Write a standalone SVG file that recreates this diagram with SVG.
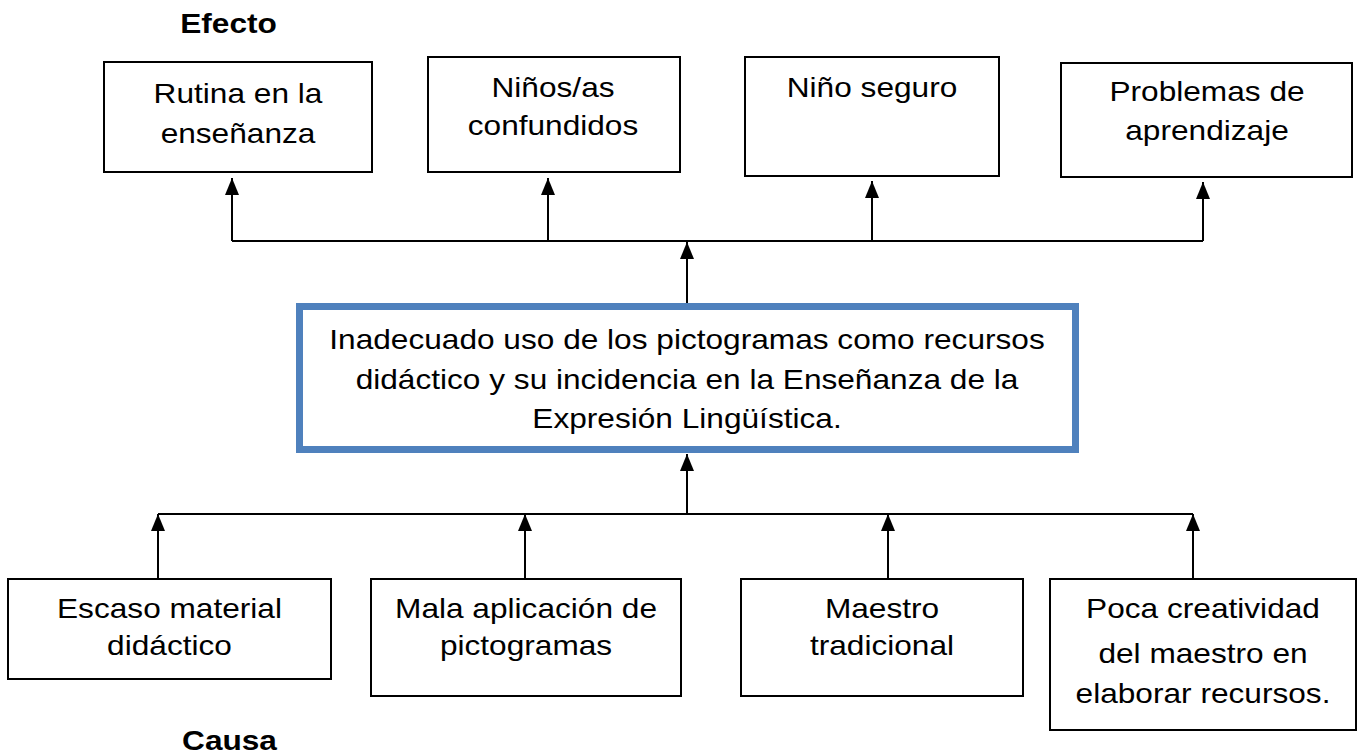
<svg xmlns="http://www.w3.org/2000/svg" width="1359" height="753" viewBox="0 0 1359 753">
<style>
.box{fill:#fff;stroke:#000;stroke-width:2}
.main{fill:#fff;stroke:#4F81BD;stroke-width:7}
.t{font-family:"Liberation Sans",Arial,sans-serif;font-size:28px;fill:#000;text-anchor:middle}
.b{font-weight:bold}
.ln{stroke:#000;stroke-width:2;fill:none}
.ar{stroke:#000;stroke-width:2;fill:none;marker-end:url(#ah)}
</style>
<defs>
<marker id="ah" viewBox="0 0 17 14" refX="17" refY="7" markerWidth="17" markerHeight="14" markerUnits="userSpaceOnUse" orient="auto">
<path d="M0,0 L17,7 L0,14 z" fill="#000"/>
</marker>
</defs>
<rect width="1359" height="753" fill="#fff"/>
<g id="lbl-efecto"><text class="t b" transform="matrix(1.13 0 0 1 228.5 33)">Efecto</text></g>
<g id="lbl-causa"><text class="t b" transform="matrix(1.13 0 0 1 229.5 750)">Causa</text></g>
<g id="connectors">
<path class="ln" d="M232,241 H1203"/>
<path class="ar" d="M232,241 V178"/>
<path class="ar" d="M548,241 V178"/>
<path class="ar" d="M872,241 V181"/>
<path class="ar" d="M1203,241 V182"/>
<path class="ar" d="M687,303 V242"/>
<path class="ar" d="M687,514 V454"/>
<path class="ln" d="M158,514 H1193"/>
<path class="ar" d="M158,579 V514"/>
<path class="ar" d="M525,579 V514"/>
<path class="ar" d="M888,579 V514"/>
<path class="ar" d="M1193,579 V514"/>
</g>
<g id="e1"><rect class="box" x="104" y="62" width="268" height="110"/>
<text class="t" transform="matrix(1.13 0 0 1 238 103)">Rutina en la</text>
<text class="t" transform="matrix(1.13 0 0 1 238 143)">enseñanza</text></g>
<g id="e2"><rect class="box" x="428" y="57" width="252" height="115"/>
<text class="t" transform="matrix(1.13 0 0 1 553 97)">Niños/as</text>
<text class="t" transform="matrix(1.13 0 0 1 553 135)">confundidos</text></g>
<g id="e3"><rect class="box" x="745" y="57" width="254" height="119"/>
<text class="t" transform="matrix(1.13 0 0 1 872 97)">Niño seguro</text></g>
<g id="e4"><rect class="box" x="1061" y="63" width="291" height="114"/>
<text class="t" transform="matrix(1.13 0 0 1 1207 101)">Problemas de</text>
<text class="t" transform="matrix(1.13 0 0 1 1207 140)">aprendizaje</text></g>
<g id="problem"><rect class="main" x="299.5" y="306.5" width="776" height="143"/>
<text class="t" transform="matrix(1.13 0 0 1 687 349)">Inadecuado uso de los pictogramas como recursos</text>
<text class="t" transform="matrix(1.13 0 0 1 687 389)">didáctico y su incidencia en la Enseñanza de la</text>
<text class="t" transform="matrix(1.13 0 0 1 687 428)">Expresión Lingüística.</text></g>
<g id="c1"><rect class="box" x="8" y="579" width="323" height="100"/>
<text class="t" transform="matrix(1.13 0 0 1 169.5 618)">Escaso material</text>
<text class="t" transform="matrix(1.13 0 0 1 169.5 655)">didáctico</text></g>
<g id="c2"><rect class="box" x="371" y="579" width="310" height="117"/>
<text class="t" transform="matrix(1.13 0 0 1 526 618)">Mala aplicación de</text>
<text class="t" transform="matrix(1.13 0 0 1 526 655)">pictogramas</text></g>
<g id="c3"><rect class="box" x="741" y="579" width="282" height="117"/>
<text class="t" transform="matrix(1.13 0 0 1 882 618)">Maestro</text>
<text class="t" transform="matrix(1.13 0 0 1 882 655)">tradicional</text></g>
<g id="c4"><rect class="box" x="1050" y="579" width="306" height="151"/>
<text class="t" transform="matrix(1.13 0 0 1 1203 618)">Poca creatividad</text>
<text class="t" transform="matrix(1.13 0 0 1 1203 663)">del maestro en</text>
<text class="t" transform="matrix(1.13 0 0 1 1203 703)">elaborar recursos.</text></g>
</svg>
